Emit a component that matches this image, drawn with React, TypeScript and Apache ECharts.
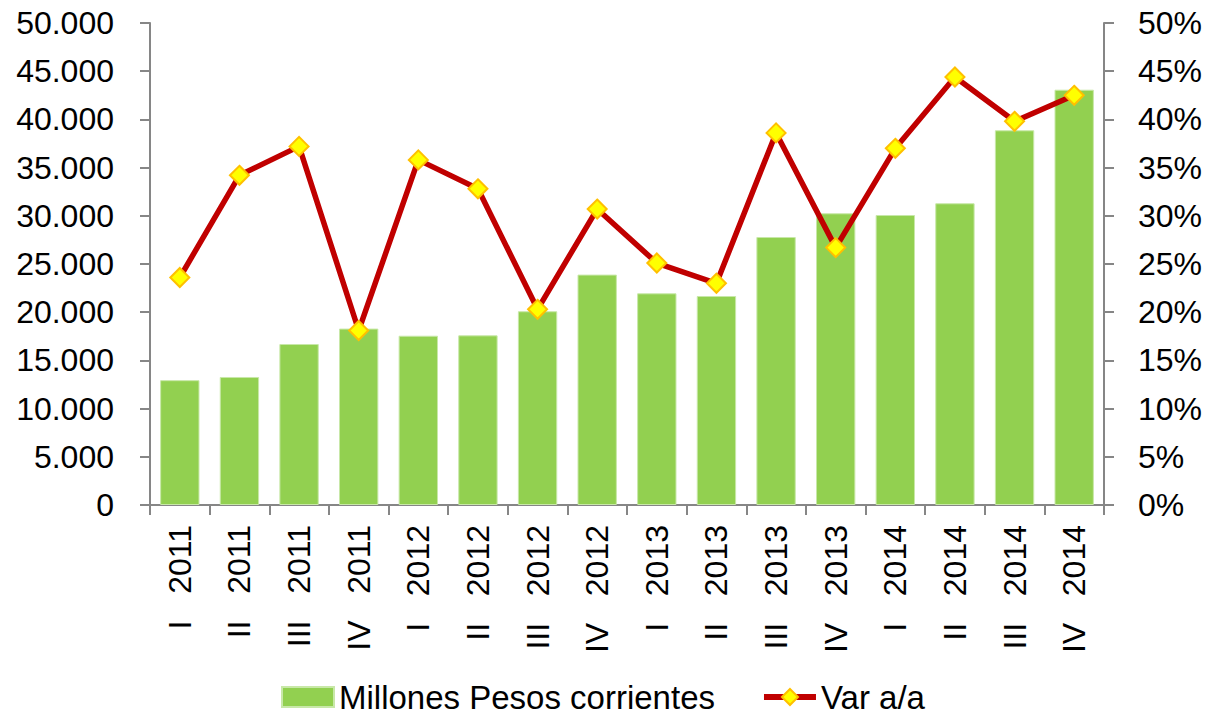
import React, { useEffect, useRef } from "react";
import * as echarts from "echarts";

const categories = [
  "I   2011", "II   2011", "III   2011", "IV   2011",
  "I   2012", "II   2012", "III   2012", "IV   2012",
  "I   2013", "II   2013", "III   2013", "IV   2013",
  "I   2014", "II   2014", "III   2014", "IV   2014",
];
const millonesPesos = [12950, 13280, 16700, 18300, 17560, 17600, 20100, 23900, 21960, 21680, 27800, 30260, 30080, 31300, 38870, 43080];
const varAA = [23.6, 34.2, 37.2, 18.1, 35.8, 32.8, 20.3, 30.7, 25.1, 23.0, 38.6, 26.7, 37.0, 44.4, 39.8, 42.5];

const FONT = "'Liberation Sans', Arial, sans-serif";
const AXIS_GRAY = "#868686";

function fmtThousands(v: number): string {
  return String(Math.round(v)).replace(/\B(?=(\d{3})+(?!\d))/g, ".");
}

export default function App() {
  const ref = useRef<HTMLDivElement>(null);
  useEffect(() => {
    document.body.style.margin = "0";
    if (!ref.current) return;
    const chart = echarts.init(ref.current, null, { renderer: "svg" });
    chart.setOption({
      animation: false,
      backgroundColor: "#ffffff",
      textStyle: { fontFamily: FONT },
      grid: { left: 150, right: 104, top: 23, bottom: 212, containLabel: false, outerBoundsMode: "none" },
      legend: {
        top: 680,
        left: 281,
        padding: 0,
        itemWidth: 52,
        itemHeight: 20,
        itemGap: 46,
        textStyle: { fontSize: 33, lineHeight: 34, color: "#000", fontFamily: FONT },
        data: [
          { name: "Millones Pesos corrientes", icon: "rect" },
          { name: "Var a/a", lineStyle: { width: 6, color: "#c00000" } },
        ],
      },
      xAxis: {
        type: "category",
        data: categories,
        axisLine: { lineStyle: { color: AXIS_GRAY, width: 2 } },
        axisTick: { show: true, length: 10, lineStyle: { color: AXIS_GRAY, width: 2 } },
        axisLabel: { rotate: 90, margin: 20, fontSize: 32, color: "#000", fontFamily: FONT, interval: 0 },
      },
      yAxis: [
        {
          type: "value",
          min: 0,
          max: 50000,
          interval: 5000,
          splitLine: { show: false },
          axisLine: { show: true, lineStyle: { color: AXIS_GRAY, width: 2 } },
          axisTick: { show: true, length: 10, lineStyle: { color: AXIS_GRAY, width: 2 } },
          axisLabel: { margin: 36, fontSize: 32, color: "#000", fontFamily: FONT, formatter: (v: number) => fmtThousands(v) },
        },
        {
          type: "value",
          min: 0,
          max: 50,
          interval: 5,
          position: "right",
          splitLine: { show: false },
          axisLine: { show: true, lineStyle: { color: AXIS_GRAY, width: 2 } },
          axisTick: { show: true, length: 10, lineStyle: { color: AXIS_GRAY, width: 2 } },
          axisLabel: { margin: 34, fontSize: 32, color: "#000", fontFamily: FONT, formatter: (v: number) => `${v}%` },
        },
      ],
      series: [
        {
          name: "Millones Pesos corrientes",
          type: "bar",
          yAxisIndex: 0,
          data: millonesPesos,
          barCategoryGap: "34%",
          itemStyle: { color: "#92d050", borderColor: "#c8e8a8", borderWidth: 1 },
        },
        {
          name: "Var a/a",
          type: "line",
          yAxisIndex: 1,
          data: varAA,
          symbol: "diamond",
          symbolSize: 19,
          lineStyle: { color: "#c00000", width: 5.5 },
          itemStyle: { color: "#ffff00", borderColor: "#ffc000", borderWidth: 2 },
          z: 5,
        },
      ],
    });
    return () => chart.dispose();
  }, []);
  return <div ref={ref} style={{ width: 1208, height: 717 }} />;
}
